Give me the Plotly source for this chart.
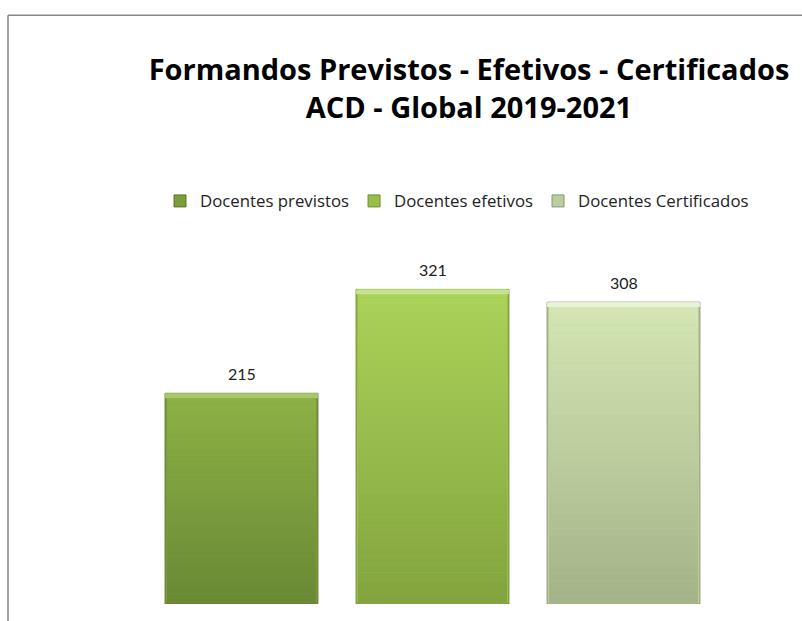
import plotly.graph_objects as go

# --- data -------------------------------------------------------------
series_names = ["Docentes previstos", "Docentes efetivos", "Docentes Certificados"]
series_values = [215, 321, 308]

# colours per series: (top of gradient, bottom of gradient, edge, top highlight)
top_colors = ["#8DB145", "#ABD259", "#D3E6B3"]
bottom_colors = ["#6A8935", "#83A43E", "#A4B388"]
edge_colors = ["#5B772D", "#6C8C32", "#8A9675"]
light_colors = ["#A9C66D", "#C6E28E", "#E8F2D7"]
legend_colors = ["#7A9C3C", "#97C04B", "#BCCD9E"]

W, H = 802, 621
M_L, M_R, M_T, M_B = 100, 20, 261, 16.5
CAT_PX = 191          # pixel spacing between category centres
FIRST_PX = 241.5      # pixel centre of the first category
Y_MAX = 350
N_SEG = 40
TITLE_FONT = "Open Sans"
TEXT_FONT = "Open Sans"
LABEL_FONT = "Lato"


def hex_to_rgb(h):
    h = h.lstrip("#")
    return tuple(int(h[i:i + 2], 16) for i in (0, 2, 4))


def mix(c1, c2, t):
    a, b = hex_to_rgb(c1), hex_to_rgb(c2)
    return "rgb({},{},{})".format(*[round(a[k] + (b[k] - a[k]) * t) for k in range(3)])


fig = go.Figure()

for i, (name, val) in enumerate(zip(series_names, series_values)):
    # the bar itself, carrying the legend entry
    fig.add_trace(go.Bar(
        x=[name], y=[val], name=name, width=0.8,
        marker=dict(color=legend_colors[i], line=dict(color=edge_colors[i], width=1)),
        hoverinfo="x+y",
    ))

for i, (name, val) in enumerate(zip(series_names, series_values)):
    # vertical gradient fill laid over the bar
    step = val / N_SEG
    fig.add_trace(go.Bar(
        x=[name] * N_SEG,
        y=[step * 1.02] * N_SEG,
        base=[k * step for k in range(N_SEG)],
        width=0.78,
        marker=dict(color=[mix(bottom_colors[i], top_colors[i], k / (N_SEG - 1)) for k in range(N_SEG)],
                    line=dict(width=0)),
        showlegend=False, hoverinfo="skip",
    ))
    # bevel highlight along the top edge
    fig.add_trace(go.Bar(
        x=[name], y=[5], base=[val - 5], width=0.8,
        marker=dict(color=light_colors[i], line=dict(width=0)),
        showlegend=False, hoverinfo="skip",
    ))

# value labels above each bar
annotations = [
    dict(x=name, y=val, xref="x", yref="y", text=str(val), showarrow=False,
         yanchor="bottom", yshift=8,
         font=dict(family=LABEL_FONT, size=16, color="#222222"))
    for name, val in zip(series_names, series_values)
]

# outer chart border (top and left edges visible)
pw, ph = W - M_L - M_R, H - M_T - M_B
x_left = (8 - M_L) / pw
y_top = (H - M_B - 15) / ph
y_bot = (H - M_B - H - 5) / ph
x_right = (W + 5 - M_L) / pw
border = dict(type="line", xref="paper", yref="paper", line=dict(color="#878787", width=1.5))
shapes = [
    dict(border, x0=x_left, x1=x_right, y0=y_top, y1=y_top),
    dict(border, x0=x_left, x1=x_left, y0=y_top, y1=y_bot),
]

x0 = -(FIRST_PX - M_L) / CAT_PX
x1 = x0 + pw / CAT_PX

fig.update_layout(
    width=W, height=H,
    margin=dict(l=M_L, r=M_R, t=M_T, b=M_B),
    paper_bgcolor="white", plot_bgcolor="white",
    barmode="overlay",
    title=dict(
        text="<b>Formandos Previstos - Efetivos - Certificados<br>ACD - Global 2019-2021</b>",
        x=469 / W, xanchor="center", xref="container",
        y=1 - 80 / H, yanchor="top", yref="container",
        font=dict(family=TITLE_FONT, size=29, color="#000000"),
    ),
    legend=dict(
        orientation="h", x=457 / W, xanchor="center", xref="container",
        y=1 - 201 / H, yanchor="middle", yref="container",
        font=dict(family=TEXT_FONT, size=16.8, color="#222222"),
        itemwidth=30, traceorder="normal",
    ),
    xaxis=dict(visible=False, range=[x0, x1], categoryorder="array", categoryarray=series_names),
    yaxis=dict(visible=False, range=[0, Y_MAX]),
    shapes=shapes,
    annotations=annotations,
    showlegend=True,
)

fig.write_html("out.html")
